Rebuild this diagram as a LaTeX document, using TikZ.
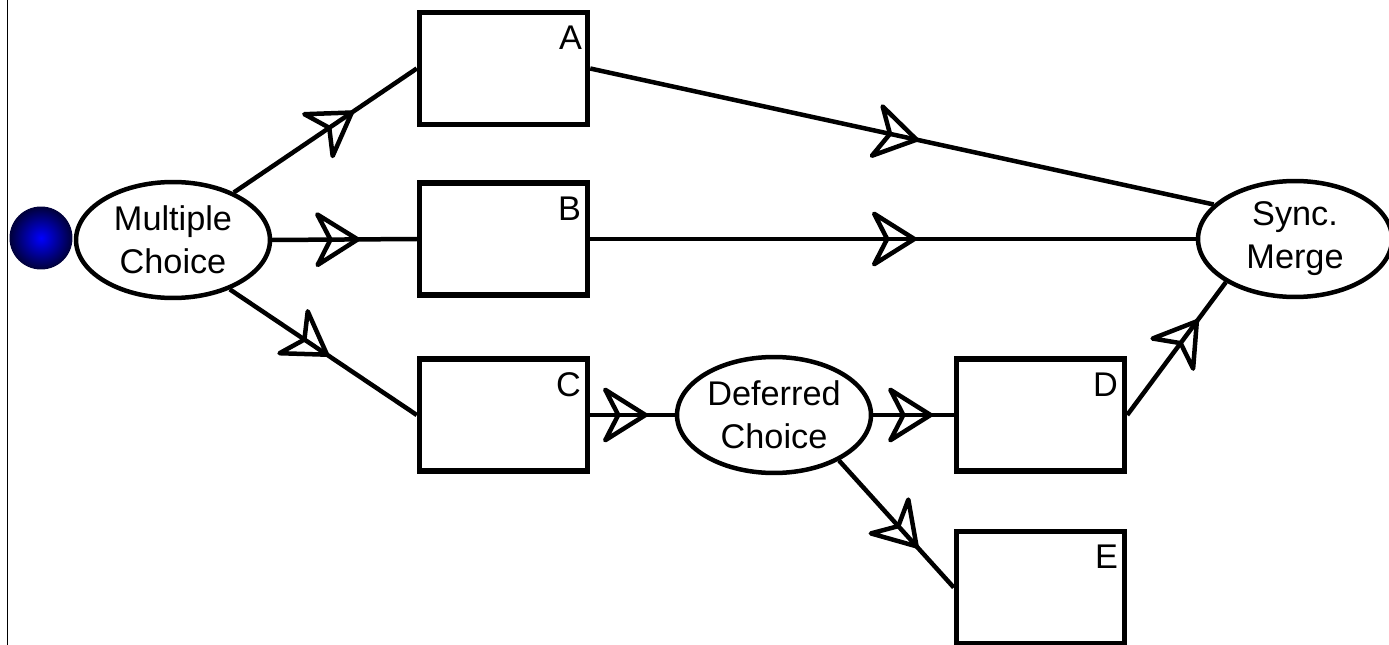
\documentclass[tikz,border=0pt]{standalone}
\usepackage{fontspec}
\setmainfont{Liberation Sans}
\usetikzlibrary{arrows.meta,decorations.markings,shapes.geometric}
\definecolor{ballin}{RGB}{0,0,255}
\definecolor{ballout}{RGB}{0,0,60}
\tikzset{
  box/.style={draw, line width=0.11cm, minimum width=3.36cm, minimum height=2.24cm, inner sep=0pt},
  oval/.style={ellipse, draw, line width=0.09cm, minimum width=3.88cm, minimum height=2.32cm, inner sep=0pt, align=center, font=\fontsize{19.5}{24.4}\selectfont},
  lbl/.style={inner sep=0pt, anchor=base east, font=\fontsize{19.5}{24.4}\selectfont},
  edgeline/.style={line width=0.09cm},
  flow/.style={edgeline, postaction={decorate}, decoration={markings, mark=at position #1 with {\arrow[line width=0.09cm]{Stealth[open,round,length=1.0cm,width=1.25cm,inset=0.32cm]}}}},
}
\begin{document}
\begin{tikzpicture}[x=0.02cm,y=-0.02cm]
\useasboundingbox (0,0) rectangle (1389,645);
\draw[line width=0.03cm] (7.5,0) -- (7.5,645);
% nodes
\node[circle, minimum size=1.24cm, inner sep=0pt, draw=ballout, line width=0.02cm, shading=radial, inner color=ballin, outer color=ballout] (start) at (41,238) {};
\node[oval] (mc) at (173,240) {Multiple\\Choice};
\node[box] (a) at (503.5,68.5) {};
\node[box] (b) at (503.5,239) {};
\node[box] (c) at (503.5,415) {};
\node[oval] (dc) at (774,415) {Deferred\\Choice};
\node[box] (d) at (1040.5,415) {};
\node[box] (e) at (1040.5,587.5) {};
\node[oval] (sm) at (1295,239) {Sync.\\Merge};
% labels
\node[lbl] (la) at ([shift={(-8,40)}]a.north east) {A};
\node[lbl] (lb) at ([shift={(-9,40)}]b.north east) {B};
\node[lbl] (lc) at ([shift={(-9,40)}]c.north east) {C};
\node[lbl] (ld) at ([shift={(-9,40)}]d.north east) {D};
\node[lbl] (le) at ([shift={(-9,40)}]e.north east) {E};
% connectors
\draw[flow=0.655] (mc.38) -- (a.west);
\draw[flow=0.607] (mc.east) -- (b.west);
\draw[flow=0.53] (mc.-41) -- (c.west);
\draw[flow=0.527] (a.east) -- (sm.157);
\draw[flow=0.539] (b.east) -- (sm.west);
\draw[flow=0.68] (c.east) -- (dc.west);
\draw[flow=0.74] (dc.east) -- (d.west);
\draw[flow=0.69] (dc.-35) -- (e.west);
\draw[flow=0.72] (d.east) -- (sm.212);
\end{tikzpicture}
\end{document}
